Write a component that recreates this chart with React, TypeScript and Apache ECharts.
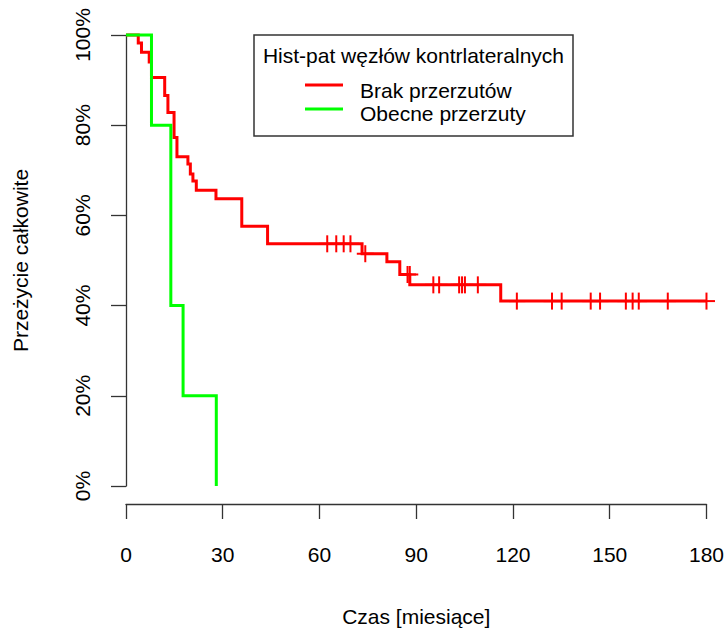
import React, { useEffect, useRef } from "react";
import * as echarts from "echarts";

// Kaplan-Meier step curves (time in months, survival in %)
const redTimes = [0, 3.8, 4.8, 7.2, 7.9, 12.0, 13.0, 14.9, 15.8, 19.2, 19.95, 20.75, 21.8, 27.9, 35.9, 43.9, 73.2, 80.9, 84.9, 88.0, 116.2, 180];
const redSurv = [100, 98.2, 96.2, 94.0, 90.6, 86.6, 82.8, 77.3, 73.0, 71.4, 69.2, 67.6, 65.6, 63.7, 57.6, 53.7, 51.5, 49.7, 46.9, 44.6, 41.0, 41.0];

const greenTimes = [0, 7.9, 13.9, 17.7, 28.0];
const greenSurv = [100, 80, 40, 20, 0];

// Censor marks ("+") of the red group
const redCensorTimes = [62.4, 65.2, 67.5, 69.6, 74.2, 87.3, 88.0, 95.3, 97.1, 103.3, 104.2, 105.1, 109.1, 121.2, 132.1, 135.1, 144.1, 147.0, 155.0, 157.1, 159.0, 168.0, 180];
const redCensorSurv = [53.7, 53.7, 53.7, 53.7, 51.5, 46.9, 46.9, 44.6, 44.6, 44.6, 44.6, 44.6, 44.6, 41.0, 41.0, 41.0, 41.0, 41.0, 41.0, 41.0, 41.0, 41.0, 41.0];

const xTicks = { min: 0, max: 180, interval: 30 };
const yTicks = { min: 0, max: 100, interval: 20 };

const legendTitle = "Hist-pat węzłów kontrlateralnych";
const groupNames = ["Brak przerzutów", "Obecne przerzuty"];
const groupColors = ["#ff0000", "#00ff00"];
const xTitle = "Czas [miesiące]";
const yTitle = "Przeżycie całkowite";

const FONT = "'Liberation Sans', Arial, sans-serif";

export default function App() {
  const ref = useRef<HTMLDivElement>(null);
  useEffect(() => {
    if (!ref.current) return;
    const chart = echarts.init(ref.current, null, { renderer: "svg" });
    const zip = (a: number[], b: number[]) => a.map((v, i) => [v, b[i]]);
    const axisColor = "#333";
    chart.setOption({
      animation: false,
      backgroundColor: "#fff",
      textStyle: { fontFamily: FONT },
      grid: { left: 126, right: 17, top: 35, bottom: 143, containLabel: false },
      xAxis: {
        type: "value",
        min: xTicks.min,
        max: xTicks.max,
        interval: xTicks.interval,
        offset: 18,
        splitLine: { show: false },
        axisLine: { show: true, onZero: false, lineStyle: { color: axisColor, width: 1.3 } },
        axisTick: { show: true, length: 15, lineStyle: { color: axisColor, width: 1.3 } },
        axisLabel: { color: "#000", fontSize: 21, fontFamily: FONT, margin: 40 },
        name: xTitle,
        nameLocation: "middle",
        nameGap: 102,
        nameTextStyle: { color: "#000", fontSize: 21, fontFamily: FONT },
      },
      yAxis: {
        type: "value",
        min: yTicks.min,
        max: yTicks.max,
        interval: yTicks.interval,
        splitLine: { show: false },
        axisLine: { show: true, lineStyle: { color: axisColor, width: 1.3 } },
        axisTick: { show: true, length: 15, lineStyle: { color: axisColor, width: 1.3 } },
        axisLabel: {
          color: "#000",
          fontSize: 21,
          fontFamily: FONT,
          rotate: 90,
          margin: 33,
          formatter: "{value}%",
        },
        name: yTitle,
        nameLocation: "middle",
        nameRotate: 90,
        nameGap: 95,
        nameTextStyle: { color: "#000", fontSize: 21, fontFamily: FONT },
      },
      graphic: [
        {
          type: "rect",
          shape: { x: 254, y: 35, width: 319, height: 101 },
          style: { fill: "#fff", stroke: axisColor, lineWidth: 1.5 },
          z: 100,
        },
        {
          type: "text",
          x: 413.5,
          y: 55,
          style: { text: legendTitle, fill: "#000", font: `21px ${FONT}`, textAlign: "center", textVerticalAlign: "middle" },
          z: 101,
        },
        {
          type: "line",
          shape: { x1: 305, y1: 85, x2: 343, y2: 85 },
          style: { stroke: groupColors[0], lineWidth: 3 },
          z: 101,
        },
        {
          type: "line",
          shape: { x1: 305, y1: 109, x2: 343, y2: 109 },
          style: { stroke: groupColors[1], lineWidth: 3 },
          z: 101,
        },
        {
          type: "text",
          x: 360,
          y: 90,
          style: { text: groupNames[0], fill: "#000", font: `21px ${FONT}`, textAlign: "left", textVerticalAlign: "middle" },
          z: 101,
        },
        {
          type: "text",
          x: 360,
          y: 113,
          style: { text: groupNames[1], fill: "#000", font: `21px ${FONT}`, textAlign: "left", textVerticalAlign: "middle" },
          z: 101,
        },
      ],
      series: [
        {
          name: groupNames[0],
          type: "line",
          step: "end",
          data: zip(redTimes, redSurv),
          showSymbol: false,
          symbol: "none",
          lineStyle: { color: groupColors[0], width: 3, cap: "butt", join: "miter" },
          clip: false,
          z: 2,
        },
        {
          name: groupNames[0] + " censored",
          type: "custom",
          data: zip(redCensorTimes, redCensorSurv),
          renderItem: (params: any, api: any) => {
            const p = api.coord([api.value(0), api.value(1)]);
            const h = 8.5;
            return {
              type: "group",
              children: [
                { type: "line", shape: { x1: p[0], y1: p[1] - h, x2: p[0], y2: p[1] + h }, style: { stroke: groupColors[0], lineWidth: 2 } },
                { type: "line", shape: { x1: p[0] - h, y1: p[1], x2: p[0] + h, y2: p[1] }, style: { stroke: groupColors[0], lineWidth: 2 } },
              ],
            };
          },
          z: 3,
        },
        {
          name: groupNames[1],
          type: "line",
          step: "end",
          data: zip(greenTimes, greenSurv),
          showSymbol: false,
          symbol: "none",
          lineStyle: { color: groupColors[1], width: 3, cap: "butt", join: "miter" },
          clip: false,
          z: 4,
        },
      ],
    });
    return () => chart.dispose();
  }, []);
  return (
    <div
      ref={ref}
      style={{ position: "fixed", left: 0, top: 0, width: 727, height: 632, background: "#fff" }}
    />
  );
}
